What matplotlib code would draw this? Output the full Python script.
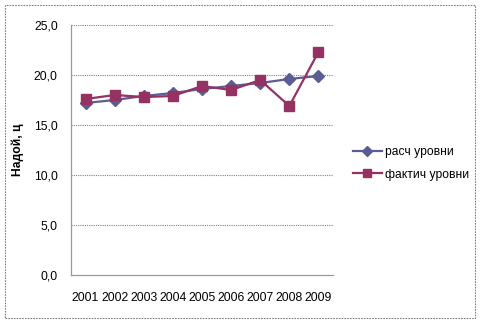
import matplotlib
matplotlib.use("Agg")
import matplotlib.pyplot as plt
from matplotlib.patches import Rectangle

years = ["2001", "2002", "2003", "2004", "2005", "2006", "2007", "2008", "2009"]
calc_levels = [17.2, 17.5, 17.9, 18.2, 18.6, 18.9, 19.2, 19.6, 19.9]
actual_levels = [17.6, 18.0, 17.8, 17.9, 18.9, 18.5, 19.5, 16.9, 22.3]
series_names = ["расч уровни", "фактич уровни"]
y_ticks = [0, 5, 10, 15, 20, 25]

plt.rcParams['font.family'] = ['Liberation Sans', 'DejaVu Sans']

W, H = 481, 323
fig = plt.figure(figsize=(W / 100, H / 100), dpi=100)
fig.patch.set_facecolor('white')

# outer dashed border
fig.patches.append(Rectangle((5 / W, 5 / H), 470 / W, 313 / H, transform=fig.transFigure,
                             fill=False, edgecolor='#808080', linewidth=0.8,
                             linestyle=(0, (1.5, 1.0))))

ax = fig.add_axes([71 / W, 1 - 275 / H, (333 - 71) / W, (275 - 25) / H])
x = list(range(len(years)))

blue = '#5C5C94'
red = '#953262'
ax.plot(x, calc_levels, color=blue, linewidth=1.6, marker='D', markersize=6.0,
        markerfacecolor=blue, markeredgecolor=blue, label=series_names[0], zorder=3)
ax.plot(x, actual_levels, color=red, linewidth=1.6, marker='s', markersize=7.0,
        markerfacecolor=red, markeredgecolor=red, label=series_names[1], zorder=4)

ax.set_xlim(-0.5, len(years) - 0.5)
ax.set_ylim(0, 25)
ax.set_yticks(y_ticks)
ax.set_yticklabels([f"{v:.1f}".replace('.', ',') for v in y_ticks], fontsize=8.7)
ax.set_xticks(x)
ax.set_xticklabels(years, fontsize=8.7)
ax.tick_params(axis='both', length=0, colors='black')
ax.tick_params(axis='x', pad=12)
ax.tick_params(axis='y', pad=9.5)

for t in y_ticks[1:]:
    ax.axhline(t, color='#808080', linewidth=0.8, linestyle=(0, (1.0, 1.0)), zorder=1)

for side in ['top', 'right']:
    ax.spines[side].set_visible(False)
for side in ['left', 'bottom']:
    ax.spines[side].set_color('#999999')
    ax.spines[side].set_linewidth(0.9)

fig.text(18 / W, 1 - 150 / H, "Надой, ц", rotation=90, fontsize=8.7, fontweight='bold',
         ha='center', va='center')

leg = fig.legend(loc='upper left', bbox_to_anchor=(348 / W, 1 - 141 / H), frameon=False,
                 fontsize=8.7, handlelength=2.4, handletextpad=0.3, labelspacing=0.9,
                 borderaxespad=0, markerscale=0.85)

fig.savefig("out.png", dpi=100)
